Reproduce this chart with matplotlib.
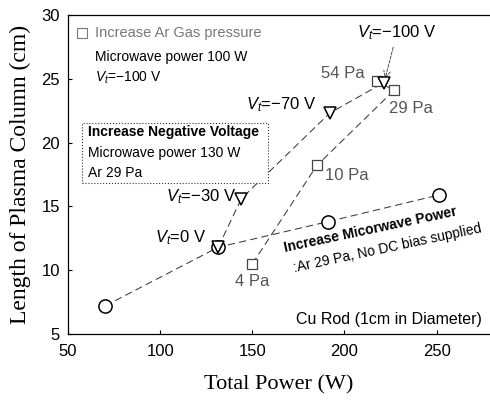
import matplotlib
matplotlib.use("Agg")
import matplotlib.pyplot as plt
from matplotlib.patches import Rectangle

plt.rcParams['font.family'] = ['Liberation Sans', 'DejaVu Sans']
plt.rcParams['mathtext.fontset'] = 'custom'
plt.rcParams['mathtext.it'] = 'Liberation Sans:italic'
plt.rcParams['mathtext.rm'] = 'Liberation Sans'

# Increase microwave power (Ar 29 Pa, no DC bias)
mw_power = [70, 131.5, 191, 251.5]
mw_length = [7.2, 11.8, 13.8, 15.9]

# Increase negative voltage (microwave 130 W, Ar 29 Pa)
volt_power = [131.5, 144, 192, 221.5]
volt_length = [11.8, 15.6, 22.3, 24.7]
volt_labels = ['$V_t$=0 V', '$V_t$=\u221230 V', '$V_t$=\u221270 V', '$V_t$=\u2212100 V']

# Increase Ar gas pressure (microwave 100 W, Vt=-100 V)
pres_power = [150, 185, 227, 217.5]
pres_length = [10.5, 18.2, 24.1, 24.8]
pres_labels = ['4 Pa', '10 Pa', '29 Pa', '54 Pa']

xticks = [50, 100, 150, 200, 250]
yticks = [5, 10, 15, 20, 25, 30]

fig = plt.figure(figsize=(4.9, 4.01), dpi=100)
ax = fig.add_axes([0.139, 0.167, 0.861, 0.796])
ax.set_xlim(50, 279)
ax.set_ylim(5, 30)
ax.set_xticks(xticks)
ax.set_yticks(yticks)
ax.tick_params(direction='in', length=3, labelsize=12, width=0.8)
ax.tick_params(axis='x', pad=7)
ax.tick_params(axis='y', pad=6)
ax.spines['right'].set_visible(False)
for s in ['left', 'bottom', 'top']:
    ax.spines[s].set_linewidth(0.9)

dash = dict(ls=(0, (7, 4)), lw=0.75, color='#3a3a3a')
ax.plot(mw_power, mw_length, **dash, zorder=1)
ax.plot(volt_power, volt_length, **dash, zorder=1)
ax.plot(pres_power, pres_length, **dash, zorder=1)

ax.plot(mw_power, mw_length, 'o', ms=9.5, mfc='white', mec='black', mew=1.1, zorder=3)
ax.plot(pres_power, pres_length, 's', ms=7, mfc='white', mec='#444444', mew=0.9, zorder=3)
ax.plot(volt_power, volt_length, 'v', ms=8.5, mfc='white', mec='black', mew=1.1, zorder=4)

# Voltage labels
k = 0.72
voff = [(-12, 10), (-5, 2), (-13, 8)]
for i in range(3):
    ax.annotate(volt_labels[i], (volt_power[i], volt_length[i]),
                xytext=(voff[i][0] * k, voff[i][1] * k), textcoords='offset points',
                ha='right', va='center', fontsize=12)
ax.annotate(volt_labels[3], (volt_power[3], volt_length[3]),
            xytext=(13 * k, 50 * k), textcoords='offset points',
            ha='center', va='center', fontsize=12,
            arrowprops=dict(arrowstyle='->', lw=0.6, ls='--', color='#333333',
                            shrinkA=2, shrinkB=3))

# Pressure labels
poff = [((0, -18), 'center'), ((8, -10), 'left'), ((-5, -18), 'left'), ((-12, 8), 'right')]
for i in range(4):
    (dx, dy), ha = poff[i]
    ax.annotate(pres_labels[i], (pres_power[i], pres_length[i]),
                xytext=(dx * k, dy * k), textcoords='offset points',
                ha=ha, va='center', fontsize=12, color='#555555')

# Top-left legend-like text
ax.plot([0.033], [0.944], 's', ms=6.5, mfc='white', mec='#777777', mew=0.8,
        transform=ax.transAxes, clip_on=False)
ax.text(0.064, 0.944, 'Increase Ar Gas pressure', transform=ax.transAxes,
        fontsize=10.5, color='#777777', va='center')
ax.text(0.064, 0.868, 'Microwave power 100 W', transform=ax.transAxes,
        fontsize=10, va='center')
ax.text(0.064, 0.803, '$V_t$=\u2212100 V', transform=ax.transAxes,
        fontsize=10, va='center')

# Negative voltage box
ax.add_patch(Rectangle((0.033, 0.473), 0.441, 0.188, transform=ax.transAxes,
                       fc='white', ec='#333333', lw=0.8, ls=':', zorder=2))
ax.text(0.047, 0.633, 'Increase Negative Voltage', transform=ax.transAxes,
        fontsize=10, fontweight='bold', va='center', zorder=5)
ax.text(0.047, 0.567, 'Microwave power 130 W', transform=ax.transAxes,
        fontsize=10, va='center', zorder=5)
ax.text(0.047, 0.505, 'Ar 29 Pa', transform=ax.transAxes,
        fontsize=10, va='center', zorder=5)

# Microwave power annotation (rotated)
ax.text(0.514, 0.257, 'Increase Micorwave Power', transform=ax.transAxes,
        fontsize=10, fontweight='bold', rotation=12, rotation_mode='anchor',
        ha='left', va='baseline')
ax.text(0.536, 0.194, ':Ar 29 Pa, No DC bias supplied', transform=ax.transAxes,
        fontsize=10, rotation=12, rotation_mode='anchor', ha='left', va='baseline')

ax.text(0.981, 0.044, 'Cu Rod (1cm in Diameter)', transform=ax.transAxes,
        fontsize=11.5, ha='right', va='center')

ax.set_xlabel('Total Power (W)', family='Liberation Serif', fontsize=16, labelpad=12)
ax.set_ylabel('Length of Plasma Column (cm)', family='Liberation Serif', fontsize=17, labelpad=7)

fig.savefig('out.png', dpi=100)
